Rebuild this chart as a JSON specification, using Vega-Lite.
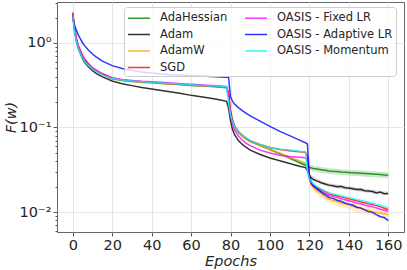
{
"$schema":"https://vega.github.io/schema/vega-lite/v6.json",
"width":347,"height":230,
"autosize":{"type":"none"},
"padding":{"left":57,"top":2,"right":3,"bottom":38},
"background":"white",
"config":{"font":"DejaVu Sans","view":{"stroke":"#666","strokeWidth":1},
"axis":{"domain":false,"grid":true,"gridColor":"#e6e6e6","gridWidth":1,"tickColor":"#555","labelColor":"#262626","titleColor":"#262626","labelFontSize":14.5,"titleFontSize":14.5,"titleFontStyle":"italic","titleFontWeight":"normal"}},
"datasets":{
"curves":[
{"e":0,"AdaHessian":2.3,"Adam":2.1,"AdamW":2.2,"SGD":2.2,"OASIS - Fixed LR":2.25,"OASIS - Adaptive LR":1.95,"OASIS - Momentum":2.05},
{"e":1,"AdaHessian":1.45,"Adam":1.35,"AdamW":1.4,"SGD":1.41,"OASIS - Fixed LR":1.44,"OASIS - Adaptive LR":1.6,"OASIS - Momentum":1.33},
{"e":2,"AdaHessian":1.08,"Adam":1.0,"AdamW":1.05,"SGD":1.06,"OASIS - Fixed LR":1.08,"OASIS - Adaptive LR":1.38,"OASIS - Momentum":1.0},
{"e":3,"AdaHessian":0.905,"Adam":0.84,"AdamW":0.88,"SGD":0.885,"OASIS - Fixed LR":0.9,"OASIS - Adaptive LR":1.22,"OASIS - Momentum":0.84},
{"e":4,"AdaHessian":0.79,"Adam":0.73,"AdamW":0.77,"SGD":0.775,"OASIS - Fixed LR":0.79,"OASIS - Adaptive LR":1.1,"OASIS - Momentum":0.735},
{"e":5,"AdaHessian":0.71,"Adam":0.65,"AdamW":0.69,"SGD":0.695,"OASIS - Fixed LR":0.707,"OASIS - Adaptive LR":1.0,"OASIS - Momentum":0.66},
{"e":6,"AdaHessian":0.645,"Adam":0.59,"AdamW":0.63,"SGD":0.633,"OASIS - Fixed LR":0.645,"OASIS - Adaptive LR":0.93,"OASIS - Momentum":0.605},
{"e":8,"AdaHessian":0.56,"Adam":0.52,"AdamW":0.555,"SGD":0.558,"OASIS - Fixed LR":0.568,"OASIS - Adaptive LR":0.82,"OASIS - Momentum":0.54},
{"e":10,"AdaHessian":0.5,"Adam":0.47,"AdamW":0.5,"SGD":0.503,"OASIS - Fixed LR":0.512,"OASIS - Adaptive LR":0.74,"OASIS - Momentum":0.49},
{"e":12,"AdaHessian":0.463,"Adam":0.435,"AdamW":0.465,"SGD":0.467,"OASIS - Fixed LR":0.476,"OASIS - Adaptive LR":0.68,"OASIS - Momentum":0.458},
{"e":15,"AdaHessian":0.423,"Adam":0.397,"AdamW":0.425,"SGD":0.427,"OASIS - Fixed LR":0.435,"OASIS - Adaptive LR":0.61,"OASIS - Momentum":0.42},
{"e":20,"AdaHessian":0.378,"Adam":0.355,"AdamW":0.38,"SGD":0.382,"OASIS - Fixed LR":0.389,"OASIS - Adaptive LR":0.54,"OASIS - Momentum":0.379},
{"e":25,"AdaHessian":0.36,"Adam":0.33,"AdamW":0.362,"SGD":0.364,"OASIS - Fixed LR":0.371,"OASIS - Adaptive LR":0.5,"OASIS - Momentum":0.364},
{"e":30,"AdaHessian":0.35,"Adam":0.313,"AdamW":0.352,"SGD":0.354,"OASIS - Fixed LR":0.361,"OASIS - Adaptive LR":0.475,"OASIS - Momentum":0.355},
{"e":35,"AdaHessian":0.343,"Adam":0.298,"AdamW":0.345,"SGD":0.347,"OASIS - Fixed LR":0.353,"OASIS - Adaptive LR":0.455,"OASIS - Momentum":0.348},
{"e":40,"AdaHessian":0.338,"Adam":0.286,"AdamW":0.34,"SGD":0.342,"OASIS - Fixed LR":0.348,"OASIS - Adaptive LR":0.44,"OASIS - Momentum":0.343},
{"e":45,"AdaHessian":0.332,"Adam":0.274,"AdamW":0.334,"SGD":0.336,"OASIS - Fixed LR":0.342,"OASIS - Adaptive LR":0.43,"OASIS - Momentum":0.337},
{"e":50,"AdaHessian":0.326,"Adam":0.263,"AdamW":0.328,"SGD":0.33,"OASIS - Fixed LR":0.336,"OASIS - Adaptive LR":0.422,"OASIS - Momentum":0.331},
{"e":55,"AdaHessian":0.32,"Adam":0.252,"AdamW":0.322,"SGD":0.324,"OASIS - Fixed LR":0.33,"OASIS - Adaptive LR":0.416,"OASIS - Momentum":0.325},
{"e":60,"AdaHessian":0.315,"Adam":0.24,"AdamW":0.317,"SGD":0.319,"OASIS - Fixed LR":0.325,"OASIS - Adaptive LR":0.411,"OASIS - Momentum":0.32},
{"e":65,"AdaHessian":0.31,"Adam":0.231,"AdamW":0.312,"SGD":0.314,"OASIS - Fixed LR":0.32,"OASIS - Adaptive LR":0.406,"OASIS - Momentum":0.315},
{"e":70,"AdaHessian":0.305,"Adam":0.222,"AdamW":0.307,"SGD":0.309,"OASIS - Fixed LR":0.315,"OASIS - Adaptive LR":0.401,"OASIS - Momentum":0.31},
{"e":75,"AdaHessian":0.3,"Adam":0.212,"AdamW":0.302,"SGD":0.304,"OASIS - Fixed LR":0.309,"OASIS - Adaptive LR":0.397,"OASIS - Momentum":0.305},
{"e":78,"AdaHessian":0.296,"Adam":0.204,"AdamW":0.298,"SGD":0.3,"OASIS - Fixed LR":0.305,"OASIS - Adaptive LR":0.394,"OASIS - Momentum":0.301},
{"e":79,"AdaHessian":0.24,"Adam":0.17,"AdamW":0.24,"SGD":0.26,"OASIS - Fixed LR":0.24,"OASIS - Adaptive LR":0.393,"OASIS - Momentum":0.2},
{"e":80,"AdaHessian":0.15,"Adam":0.12,"AdamW":0.15,"SGD":0.16,"OASIS - Fixed LR":0.14,"OASIS - Adaptive LR":0.23,"OASIS - Momentum":0.14},
{"e":81,"AdaHessian":0.118,"Adam":0.095,"AdamW":0.118,"SGD":0.125,"OASIS - Fixed LR":0.11,"OASIS - Adaptive LR":0.205,"OASIS - Momentum":0.118},
{"e":82,"AdaHessian":0.102,"Adam":0.083,"AdamW":0.102,"SGD":0.106,"OASIS - Fixed LR":0.094,"OASIS - Adaptive LR":0.19,"OASIS - Momentum":0.104},
{"e":84,"AdaHessian":0.087,"Adam":0.07,"AdamW":0.087,"SGD":0.09,"OASIS - Fixed LR":0.079,"OASIS - Adaptive LR":0.172,"OASIS - Momentum":0.089},
{"e":86,"AdaHessian":0.079,"Adam":0.063,"AdamW":0.079,"SGD":0.081,"OASIS - Fixed LR":0.071,"OASIS - Adaptive LR":0.158,"OASIS - Momentum":0.081},
{"e":88,"AdaHessian":0.073,"Adam":0.058,"AdamW":0.073,"SGD":0.075,"OASIS - Fixed LR":0.065,"OASIS - Adaptive LR":0.147,"OASIS - Momentum":0.075},
{"e":90,"AdaHessian":0.068,"Adam":0.054,"AdamW":0.068,"SGD":0.07,"OASIS - Fixed LR":0.061,"OASIS - Adaptive LR":0.137,"OASIS - Momentum":0.07},
{"e":95,"AdaHessian":0.061,"Adam":0.048,"AdamW":0.061,"SGD":0.063,"OASIS - Fixed LR":0.054,"OASIS - Adaptive LR":0.119,"OASIS - Momentum":0.063},
{"e":100,"AdaHessian":0.055,"Adam":0.0435,"AdamW":0.055,"SGD":0.058,"OASIS - Fixed LR":0.05,"OASIS - Adaptive LR":0.103,"OASIS - Momentum":0.058},
{"e":105,"AdaHessian":0.049,"Adam":0.0405,"AdamW":0.05,"SGD":0.055,"OASIS - Fixed LR":0.047,"OASIS - Adaptive LR":0.09,"OASIS - Momentum":0.0555},
{"e":110,"AdaHessian":0.0435,"Adam":0.0375,"AdamW":0.0445,"SGD":0.053,"OASIS - Fixed LR":0.0455,"OASIS - Adaptive LR":0.08,"OASIS - Momentum":0.054},
{"e":115,"AdaHessian":0.0385,"Adam":0.0348,"AdamW":0.0405,"SGD":0.0515,"OASIS - Fixed LR":0.0445,"OASIS - Adaptive LR":0.071,"OASIS - Momentum":0.0525},
{"e":118,"AdaHessian":0.0358,"Adam":0.0335,"AdamW":0.038,"SGD":0.051,"OASIS - Fixed LR":0.044,"OASIS - Adaptive LR":0.066,"OASIS - Momentum":0.0515},
{"e":119,"AdaHessian":0.0348,"Adam":0.031,"AdamW":0.034,"SGD":0.045,"OASIS - Fixed LR":0.04,"OASIS - Adaptive LR":0.064,"OASIS - Momentum":0.03},
{"e":120,"AdaHessian":0.0338,"Adam":0.027,"AdamW":0.024,"SGD":0.026,"OASIS - Fixed LR":0.025,"OASIS - Adaptive LR":0.027,"OASIS - Momentum":0.025},
{"e":121,"AdaHessian":0.0332,"Adam":0.0252,"AdamW":0.021,"SGD":0.0225,"OASIS - Fixed LR":0.0215,"OASIS - Adaptive LR":0.022,"OASIS - Momentum":0.0228},
{"e":122,"AdaHessian":0.0328,"Adam":0.0242,"AdamW":0.0195,"SGD":0.021,"OASIS - Fixed LR":0.0202,"OASIS - Adaptive LR":0.0205,"OASIS - Momentum":0.0215},
{"e":124,"AdaHessian":0.0322,"Adam":0.0232,"AdamW":0.0178,"SGD":0.0195,"OASIS - Fixed LR":0.0187,"OASIS - Adaptive LR":0.0188,"OASIS - Momentum":0.0199},
{"e":126,"AdaHessian":0.0317,"Adam":0.0222,"AdamW":0.0165,"SGD":0.0184,"OASIS - Fixed LR":0.0176,"OASIS - Adaptive LR":0.0172,"OASIS - Momentum":0.0188},
{"e":128,"AdaHessian":0.0312,"Adam":0.0215,"AdamW":0.0152,"SGD":0.0174,"OASIS - Fixed LR":0.0166,"OASIS - Adaptive LR":0.016,"OASIS - Momentum":0.0178},
{"e":130,"AdaHessian":0.0306,"Adam":0.0208,"AdamW":0.0142,"SGD":0.0164,"OASIS - Fixed LR":0.0157,"OASIS - Adaptive LR":0.0148,"OASIS - Momentum":0.0169},
{"e":132,"AdaHessian":0.0303,"Adam":0.0205,"AdamW":0.0137,"SGD":0.0159,"OASIS - Fixed LR":0.0152,"OASIS - Adaptive LR":0.0145,"OASIS - Momentum":0.0164},
{"e":134,"AdaHessian":0.0301,"Adam":0.0199,"AdamW":0.0133,"SGD":0.0155,"OASIS - Fixed LR":0.0148,"OASIS - Adaptive LR":0.0138,"OASIS - Momentum":0.016},
{"e":136,"AdaHessian":0.0298,"Adam":0.0201,"AdamW":0.0128,"SGD":0.0151,"OASIS - Fixed LR":0.0144,"OASIS - Adaptive LR":0.0134,"OASIS - Momentum":0.0156},
{"e":138,"AdaHessian":0.0296,"Adam":0.0194,"AdamW":0.0124,"SGD":0.0147,"OASIS - Fixed LR":0.014,"OASIS - Adaptive LR":0.0128,"OASIS - Momentum":0.0152},
{"e":140,"AdaHessian":0.0293,"Adam":0.0192,"AdamW":0.0121,"SGD":0.0143,"OASIS - Fixed LR":0.0136,"OASIS - Adaptive LR":0.0124,"OASIS - Momentum":0.0149},
{"e":142,"AdaHessian":0.0291,"Adam":0.0189,"AdamW":0.0117,"SGD":0.014,"OASIS - Fixed LR":0.0132,"OASIS - Adaptive LR":0.0121,"OASIS - Momentum":0.0145},
{"e":144,"AdaHessian":0.0289,"Adam":0.0185,"AdamW":0.0113,"SGD":0.0136,"OASIS - Fixed LR":0.0128,"OASIS - Adaptive LR":0.0114,"OASIS - Momentum":0.0141},
{"e":146,"AdaHessian":0.0287,"Adam":0.0186,"AdamW":0.011,"SGD":0.0132,"OASIS - Fixed LR":0.0125,"OASIS - Adaptive LR":0.0112,"OASIS - Momentum":0.0138},
{"e":148,"AdaHessian":0.0285,"Adam":0.0179,"AdamW":0.0107,"SGD":0.0129,"OASIS - Fixed LR":0.0121,"OASIS - Adaptive LR":0.0106,"OASIS - Momentum":0.0134},
{"e":150,"AdaHessian":0.0283,"Adam":0.0177,"AdamW":0.0104,"SGD":0.0125,"OASIS - Fixed LR":0.0118,"OASIS - Adaptive LR":0.0101,"OASIS - Momentum":0.0131},
{"e":152,"AdaHessian":0.0281,"Adam":0.0175,"AdamW":0.0101,"SGD":0.0122,"OASIS - Fixed LR":0.0115,"OASIS - Adaptive LR":0.0099,"OASIS - Momentum":0.0127},
{"e":154,"AdaHessian":0.0279,"Adam":0.0168,"AdamW":0.0099,"SGD":0.0119,"OASIS - Fixed LR":0.0112,"OASIS - Adaptive LR":0.0093,"OASIS - Momentum":0.0124},
{"e":156,"AdaHessian":0.0277,"Adam":0.0172,"AdamW":0.0097,"SGD":0.0115,"OASIS - Fixed LR":0.0108,"OASIS - Adaptive LR":0.0088,"OASIS - Momentum":0.012},
{"e":158,"AdaHessian":0.0275,"Adam":0.0165,"AdamW":0.0095,"SGD":0.0111,"OASIS - Fixed LR":0.0105,"OASIS - Adaptive LR":0.0086,"OASIS - Momentum":0.0116},
{"e":160,"AdaHessian":0.0273,"Adam":0.0166,"AdamW":0.0093,"SGD":0.0107,"OASIS - Fixed LR":0.0102,"OASIS - Adaptive LR":0.0079,"OASIS - Momentum":0.0112}
],
"bands":[
{"s":"AdaHessian","e":100,"lo":0.0534,"hi":0.0567},
{"s":"AdaHessian","e":110,"lo":0.0418,"hi":0.0452},
{"s":"AdaHessian","e":118,"lo":0.034,"hi":0.0376},
{"s":"AdaHessian","e":122,"lo":0.0302,"hi":0.0354},
{"s":"AdaHessian","e":126,"lo":0.0292,"hi":0.0342},
{"s":"AdaHessian","e":130,"lo":0.0282,"hi":0.033},
{"s":"AdaHessian","e":135,"lo":0.0276,"hi":0.0323},
{"s":"AdaHessian","e":140,"lo":0.027,"hi":0.0316},
{"s":"AdaHessian","e":145,"lo":0.0265,"hi":0.0311},
{"s":"AdaHessian","e":150,"lo":0.026,"hi":0.0306},
{"s":"AdaHessian","e":155,"lo":0.0256,"hi":0.03},
{"s":"AdaHessian","e":160,"lo":0.0251,"hi":0.0295},
{"s":"AdamW","e":118,"lo":0.0365,"hi":0.0395},
{"s":"AdamW","e":120,"lo":0.022,"hi":0.026},
{"s":"AdamW","e":122,"lo":0.0175,"hi":0.0215},
{"s":"AdamW","e":126,"lo":0.0148,"hi":0.0182},
{"s":"AdamW","e":130,"lo":0.0127,"hi":0.0157},
{"s":"AdamW","e":135,"lo":0.0116,"hi":0.0144},
{"s":"AdamW","e":140,"lo":0.0108,"hi":0.0134},
{"s":"AdamW","e":145,"lo":0.0099,"hi":0.0123},
{"s":"AdamW","e":150,"lo":0.0093,"hi":0.0115},
{"s":"AdamW","e":155,"lo":0.0087,"hi":0.0109},
{"s":"AdamW","e":160,"lo":0.0083,"hi":0.0103},
{"s":"Adam","e":120,"lo":0.0257,"hi":0.0284},
{"s":"Adam","e":126,"lo":0.0211,"hi":0.0233},
{"s":"Adam","e":130,"lo":0.0198,"hi":0.0218},
{"s":"Adam","e":140,"lo":0.0182,"hi":0.0202},
{"s":"Adam","e":150,"lo":0.0168,"hi":0.0186},
{"s":"Adam","e":160,"lo":0.0158,"hi":0.0174}
]},
"encoding":{"x":{"field":"e","type":"quantitative","title":"Epochs","scale":{"domain":[-8,168],"nice":false,"zero":false},"axis":{"values":[0,20,40,60,80,100,120,140,160],"tickSize":4,"labelPadding":2,"titlePadding":3}}},
"layer":[
{"data":{"name":"bands"},"transform":[{"filter":"datum.s == 'AdaHessian'"}],"mark":{"type":"area","color":"green","opacity":0.2,"clip":true},
"encoding":{"y":{"field":"lo","type":"quantitative","title":"F(w)","scale":{"type":"log","domain":[0.0058,3.055],"nice":false}},"y2":{"field":"hi"}}},
{"data":{"name":"bands"},"transform":[{"filter":"datum.s == 'AdamW'"}],"mark":{"type":"area","color":"orange","opacity":0.2,"clip":true},
"encoding":{"y":{"field":"lo","type":"quantitative","title":"F(w)","scale":{"type":"log","domain":[0.0058,3.055],"nice":false}},"y2":{"field":"hi"}}},
{"data":{"name":"bands"},"transform":[{"filter":"datum.s == 'Adam'"}],"mark":{"type":"area","color":"black","opacity":0.15,"clip":true},
"encoding":{"y":{"field":"lo","type":"quantitative","title":"F(w)","scale":{"type":"log","domain":[0.0058,3.055],"nice":false}},"y2":{"field":"hi"}}},
{"data":{"name":"curves"},"transform":[{"fold":["AdaHessian","Adam","AdamW","SGD","OASIS - Fixed LR","OASIS - Adaptive LR","OASIS - Momentum"],"as":["opt","F"]}],
"mark":{"type":"line","strokeWidth":1.5,"opacity":0.8,"clip":true},
"encoding":{
"y":{"field":"F","type":"quantitative","title":"F(w)","scale":{"type":"log","domain":[0.0058,3.055],"nice":false},
"axis":{"values":[0.006,0.007,0.008,0.009,0.01,0.02,0.03,0.04,0.05,0.06,0.07,0.08,0.09,0.1,0.2,0.3,0.4,0.5,0.6,0.7,0.8,0.9,1,2,3],
"labelExpr":"datum.value == 1 ? '10⁰' : datum.value == 0.1 ? '10⁻¹' : datum.value == 0.01 ? '10⁻²' : ''",
"tickSize":{"condition":{"test":"datum.value == 1 || datum.value == 0.1 || datum.value == 0.01","value":4},"value":2},
"gridOpacity":{"condition":{"test":"datum.value == 1 || datum.value == 0.1 || datum.value == 0.01","value":1},"value":0},
"labelPadding":2,"titlePadding":1}},
"color":{"field":"opt","type":"nominal",
"scale":{"domain":["AdaHessian","Adam","AdamW","SGD","OASIS - Fixed LR","OASIS - Adaptive LR","OASIS - Momentum"],"range":["green","black","orange","red","magenta","blue","cyan"]},
"legend":{"title":null,"orient":"none","legendX":67,"legendY":5,"columns":2,"symbolType":"M-1,0H2.143","symbolSize":196,"symbolStrokeWidth":1.5,"symbolOpacity":0.8,"labelFontSize":11.5,"labelColor":"#262626","labelOffset":17,"fillColor":"rgba(255,255,255,0.8)","strokeColor":"#cccccc","cornerRadius":3,"padding":3,"rowPadding":2.5,"columnPadding":14}}}}
]
}
